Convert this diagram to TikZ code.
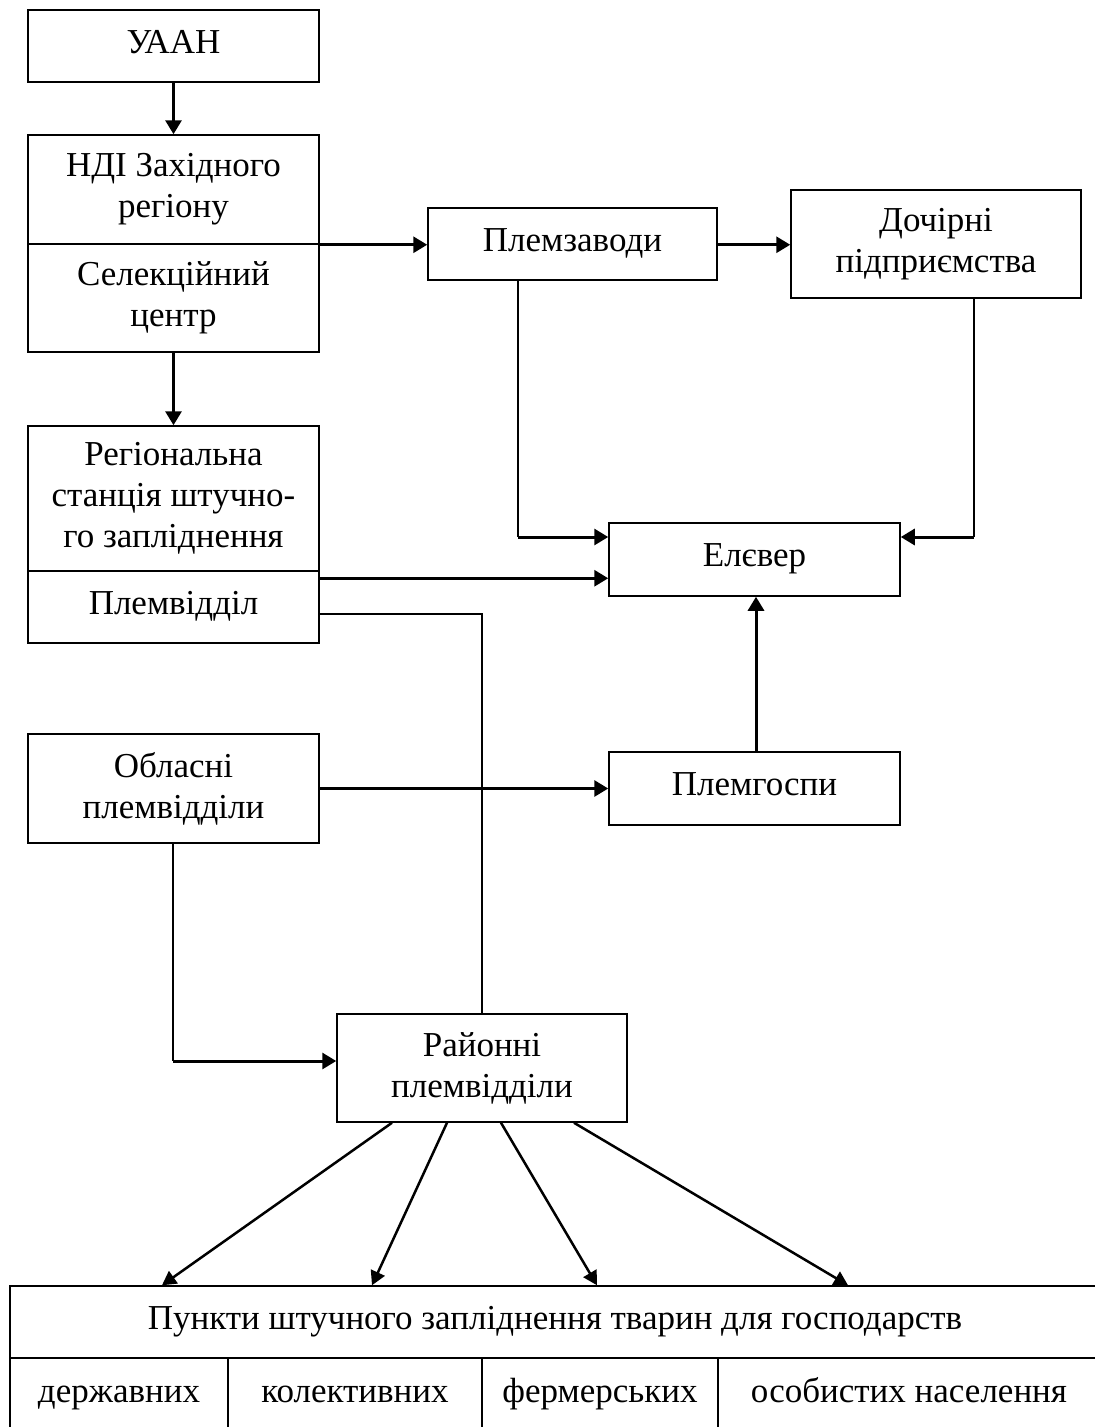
\documentclass[tikz,border=0pt]{standalone}
\usepackage{fontspec}
\setmainfont{Liberation Serif}
\usetikzlibrary{arrows.meta,calc}
\begin{document}
\begin{tikzpicture}[x=1pt,y=-1pt,
  box/.style={draw,line width=1.5pt,inner sep=0pt,align=center,
    font=\fontsize{35}{41}\selectfont},
  one/.style={box,text height=24pt,text depth=10pt},
  cell/.style={box,text height=24pt,text depth=8pt},
  thka/.style={line width=3pt,-{Triangle[length=14pt,width=16pt]}},
  thinl/.style={line width=1.5pt},
  meda/.style={line width=2.5pt,-{Triangle[length=14pt,width=15pt]}}]
\useasboundingbox (0,0) rectangle (1095,1427);
% left column
\node[one,minimum width=291pt,minimum height=72pt] (uaan) at (173.5,46) {УААН};
\node[box,minimum width=291pt,minimum height=109pt] (ndi) at (173.5,189.5) {НДІ Західного\\регіону};
\node[box,minimum width=291pt,minimum height=108pt] (sel) at (173.5,298) {Селекційний\\центр};
\node[box,minimum width=291pt,minimum height=145pt] (reg) at (173.5,498.5) {Регіональна\\станція штучно-\\го запліднення};
\node[one,minimum width=291pt,minimum height=72pt] (plemv) at (173.5,607) {Племвідділ};
\node[box,minimum width=291pt,minimum height=109pt] (obl) at (173.5,788.5) {Обласні\\племвідділи};
% right part
\node[one,minimum width=289pt,minimum height=72pt] (zav) at (572.5,244) {Племзаводи};
\node[box,minimum width=290pt,minimum height=108pt] (doch) at (936,244) {Дочірні\\підприємства};
\node[one,minimum width=291pt,minimum height=73pt] (elev) at (754.5,559.5) {Елєвер};
\node[one,minimum width=291pt,minimum height=73pt] (gosp) at (754.5,788.5) {Племгоспи};
\node[box,minimum width=290pt,minimum height=108pt] (rai) at (482,1068) {Районні\\племвідділи};
% bottom table
\node[one,minimum width=1090pt,minimum height=72pt] (punkt) at (555,1322) {Пункти штучного запліднення тварин для господарств};
\node[cell,minimum width=218pt,minimum height=72pt] (c1) at (119,1394) {державних};
\node[cell,minimum width=254pt,minimum height=72pt] (c2) at (355,1394) {колективних};
\node[cell,minimum width=236pt,minimum height=72pt] (c3) at (600,1394) {фермерських};
\node[cell,minimum width=382pt,minimum height=72pt] (c4) at (909,1394) {особистих населення};
% connectors
\draw[thka] (uaan.south) -- (ndi.north);
\draw[thka] (sel.south) -- (reg.north);
\draw[thka] (ndi.south east) -- (ndi.south east -| zav.west);
\draw[thka] (zav.east |- ndi.south east) -- (zav.east |- ndi.south east -| doch.west);
% Племзаводи -> Елєвер
\coordinate (zs) at ([xshift=-54.5pt]zav.south);
\coordinate (e1) at ([yshift=22.5pt]elev.west);
\draw[thinl] (zs) -- (zs |- e1);
\draw[thka] (zs |- e1) -- (e1);
% Дочірні -> Елєвер
\coordinate (ds) at ([xshift=38pt]doch.south);
\coordinate (e2) at ([yshift=22.5pt]elev.east);
\draw[thinl] (ds) -- (ds |- e2);
\draw[thka] (ds |- e2) -- (e2);
% Регіональна -> Елєвер
\coordinate (rs) at ([yshift=-8pt]plemv.north east);
\draw[thka] (rs) -- (rs -| elev.west);
% Племвідділ -> Районні
\coordinate (ps) at ([yshift=-7pt]plemv.east);
\draw[thinl] (ps) -| (rai.north);
% Обласні -> Племгоспи
\draw[thka] (obl.east) -- (gosp.west);
% Племгоспи -> Елєвер
\draw[thka] ([xshift=1.5pt]gosp.north) -- ([xshift=1.5pt]elev.south);
% Обласні -> Районні
\coordinate (r1) at ([yshift=7pt]rai.west);
\draw[thinl] ([xshift=-0.5pt]obl.south) -- ([xshift=-0.5pt]obl.south |- r1);
\draw[thka] ([xshift=-0.5pt]obl.south |- r1) -- (r1);
% Районні -> Пункти
\draw[meda] ([xshift=-90pt]rai.south) -- ([xshift=-393pt]punkt.north);
\draw[meda] ([xshift=-35pt]rai.south) -- ([xshift=-183pt]punkt.north);
\draw[meda] ([xshift=19pt]rai.south) -- ([xshift=42pt]punkt.north);
\draw[meda] ([xshift=92pt]rai.south) -- ([xshift=293pt]punkt.north);
\end{tikzpicture}
\end{document}
